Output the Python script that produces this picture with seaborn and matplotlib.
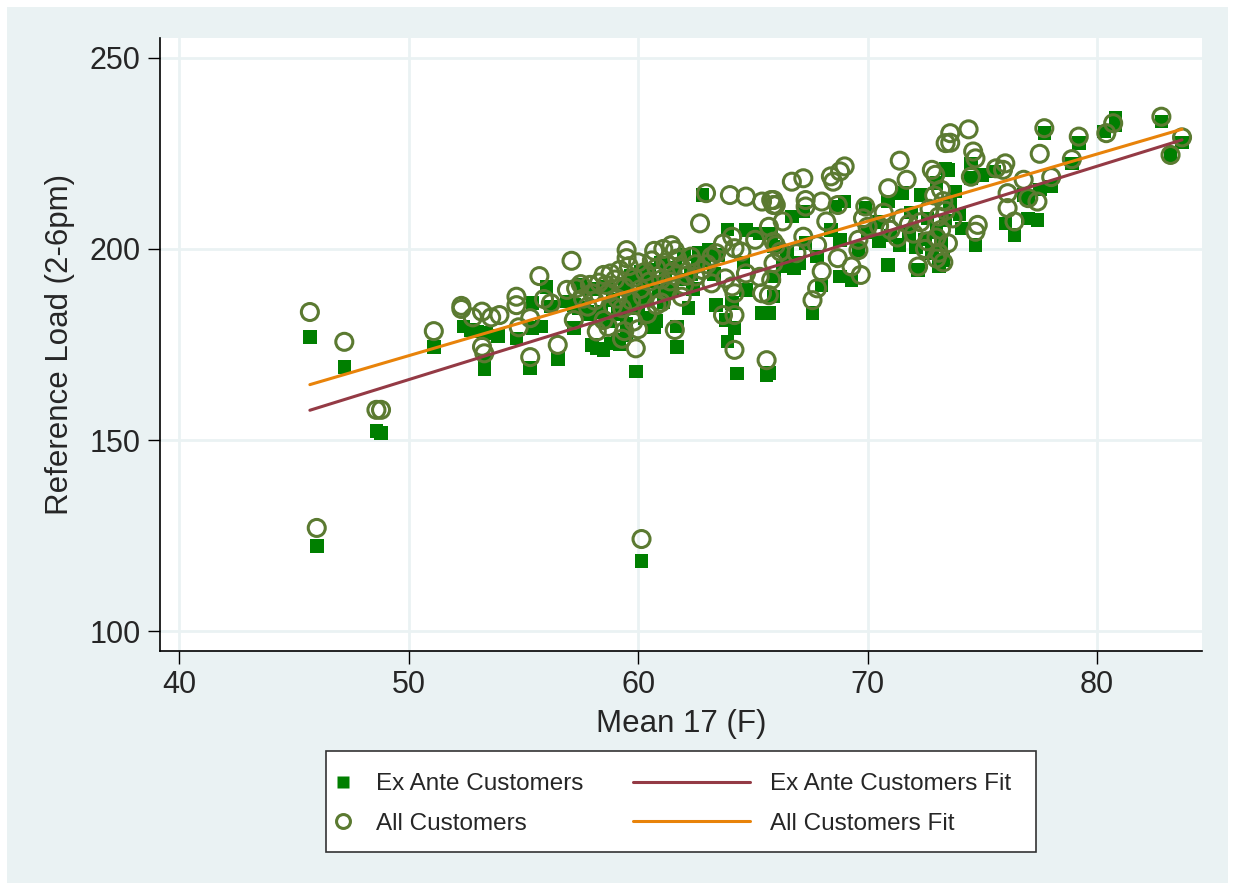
import numpy as np
import pandas as pd
import matplotlib
matplotlib.use('Agg')
import matplotlib.pyplot as plt
from matplotlib.patches import Rectangle
from matplotlib.lines import Line2D
import seaborn as sns

# Ex ante customers (squares): temperature, load
exTemp = [45.7, 46.0, 47.2, 48.6, 48.8, 51.1, 60.15,
          52.4, 52.7, 53.0, 53.4, 53.9, 53.3, 53.3, 54.7, 55.4, 55.4, 55.8, 55.3, 56.5, 56.9,
          57.2, 57.4, 57.8, 57.2, 58.0, 58.2, 58.5, 58.8, 59.1, 58.9, 59.1,
          62.8, 63.9, 64.7, 65.3, 65.8, 65.9, 64.7, 64.1, 63.8, 65.4, 64.2, 63.9, 64.3, 65.6,
          61.7, 61.7, 60.8, 59.9, 62.2, 63.4, 62.65, 63.1, 63.5, 61.5, 61.2,
          59.3, 59.5, 59.6, 59.8, 60.0, 60.2, 60.4, 60.6, 60.9, 61.1, 59.4, 59.7, 60.1, 60.3,
          60.7, 59.2, 59.5, 61.3, 61.9, 62.3, 62.6, 62.0, 62.4, 57.5, 58.0, 58.4, 58.7, 57.9,
          56.2, 56.0,
          60.5, 61.0, 61.6, 62.9, 63.3, 64.6, 59.9, 58.6,
          69.0, 68.6, 66.7, 67.2, 71.5, 70.9, 69.9, 72.3, 73.0, 73.4, 68.4, 68.8, 67.0, 66.8,
          67.8, 68.8, 69.3, 70.9, 72.2, 69.6, 68.0, 67.6, 65.9, 65.7, 65.7, 66.3, 65.95, 66.5,
          67.3, 70.0, 70.5, 71.0, 71.4, 71.8, 72.1, 72.5, 72.8, 73.0, 73.2, 73.4, 72.6, 71.9,
          70.4,
          73.5, 77.7, 79.2, 80.3, 80.8, 78.9, 74.5, 74.5, 75.0, 75.5, 78.0, 77.5, 76.8, 77.0,
          76.0, 76.4, 77.0, 77.4, 74.7, 74.1, 73.3, 73.1, 73.6, 74.0, 73.8,
          82.8, 83.7, 83.2, 80.8]
exLoad = [177.0, 122.3, 169.1, 152.4, 151.8, 174.3, 118.3,
          179.7, 178.8, 178.4, 178.0, 177.2, 168.4, 170.5, 176.6, 185.8, 179.3, 179.7, 168.8, 171.2, 186.2,
          185.3, 184.5, 183.6, 179.3, 174.9, 174.0, 173.6, 175.3, 176.2, 186.6, 184.0,
          214.1, 205.1, 205.0, 204.1, 204.1, 200.7, 189.3, 185.8, 181.4, 183.2, 179.3, 175.8, 167.4, 167.0,
          174.4, 179.7, 181.2, 167.9, 184.5, 185.3, 198.9, 199.7, 198.4, 189.3, 192.8,
          183.0, 180.5, 185.5, 188.0, 184.5, 189.5, 186.5, 191.5, 189.0, 186.0, 190.5, 193.0, 194.0, 182.0,
          179.5, 175.0, 177.5, 188.5, 192.0, 193.5, 196.0, 198.5, 189.5, 190.5, 189.5, 183.5, 181.0, 183.0,
          185.0, 190.0,
          194.5, 196.5, 195.0, 197.0, 193.5, 196.5, 193.0, 190.0,
          212.4, 211.1, 208.5, 209.8, 214.6, 212.4, 210.7, 214.1, 217.2, 221.1, 205.0, 202.4, 196.3, 194.9,
          198.0, 192.8, 191.9, 195.8, 194.5, 199.7, 190.6, 183.2, 187.5, 183.2, 167.5, 195.4, 192.8, 199.0,
          201.5, 204.5, 202.0, 203.5, 201.0, 204.0, 200.5, 202.5, 199.0, 204.5, 201.5, 207.5, 208.0, 209.5,
          207.0,
          220.7, 230.3, 227.7, 230.7, 234.2, 222.4, 222.4, 218.5, 219.4, 220.3, 216.3, 215.5, 214.1, 213.3,
          206.7, 203.7, 208.0, 207.6, 201.0, 205.4, 197.1, 195.4, 212.0, 209.0, 215.0,
          233.3, 227.8, 224.6, 232.5]

# All customers (circles): temperature, load
allTemp = [45.7, 46.0, 47.2, 48.6, 48.8, 51.1, 60.15,
           57.1, 55.7, 52.3, 52.3, 52.8, 53.2, 53.6, 53.96, 54.7, 54.7, 55.3, 54.8, 55.9, 56.2,
           53.2, 53.3, 55.3, 56.5, 56.9, 57.3, 57.5, 57.9, 58.0, 57.8, 57.2, 58.2, 58.5, 58.7,
           58.5, 58.8, 58.3, 58.6,
           62.96, 64.0, 64.7, 65.4, 65.8, 65.9, 62.7, 59.5, 59.5, 61.45, 61.6, 63.7, 64.1, 64.2,
           64.5, 65.1, 65.7, 65.9, 63.2, 63.4, 63.8, 64.1, 64.2, 63.2, 64.7, 65.3, 65.4, 65.7,
           63.7, 64.2, 64.2, 65.6, 61.6, 59.9, 60.8, 61.9, 62.5,
           59.0, 59.2, 59.4, 59.6, 59.8, 60.0, 60.1, 60.3, 60.5, 60.6, 60.8, 61.0, 61.2, 61.3,
           61.5, 61.7, 61.9, 62.1, 62.3, 62.5, 59.1, 59.3, 59.7, 60.2, 60.4, 59.8, 59.4, 60.0,
           59.3, 58.9, 61.0, 61.4, 62.8, 62.0, 63.0, 58.7, 58.1, 57.6, 60.7, 61.1,
           71.4, 69.0, 68.8, 68.4, 68.5, 66.7, 67.2, 71.7, 70.9, 72.8, 72.95, 73.4, 65.9, 66.0,
           67.3, 67.3, 68.0, 66.3, 68.7, 68.2, 69.9, 69.8, 70.0, 67.2, 67.8, 66.9, 66.0, 66.2,
           65.9, 65.8, 68.7, 69.3, 69.7, 68.0, 67.8, 67.6, 69.6, 69.6, 72.2, 72.6, 73.0, 72.5,
           70.5, 71.0, 71.3, 71.8, 72.0, 72.3, 72.7, 73.1, 73.3, 72.9, 73.2, 70.7, 71.5,
           73.6, 73.6, 74.4, 77.7, 79.2, 80.7, 80.4, 77.5, 78.9, 74.6, 74.7, 74.5, 75.6, 75.9,
           76.0, 76.8, 78.0, 76.1, 77.0, 77.4, 76.1, 76.4, 74.8, 74.7, 73.4, 73.7, 73.2, 73.5,
           73.1, 73.3, 73.0,
           82.8, 83.7, 83.2]
allLoad = [183.5, 127.0, 175.7, 157.9, 157.9, 178.5, 124.1,
           196.9, 192.9, 185.1, 184.3, 182.1, 183.6, 182.1, 182.7, 187.5, 185.3, 181.9, 179.5, 186.9, 185.8,
           174.4, 172.7, 171.7, 174.9, 189.3, 189.7, 190.8, 190.6, 188.4, 184.9, 181.4, 178.4, 181.4, 179.6,
           193.2, 193.6, 191.2, 190.6,
           214.6, 214.1, 213.7, 212.4, 212.8, 211.5, 206.7, 199.7, 197.6, 201.0, 199.7, 201.4, 203.2, 200.2,
           199.3, 202.4, 205.8, 201.9, 198.0, 198.9, 192.3, 190.2, 188.4, 191.0, 193.6, 192.7, 188.4, 187.9,
           182.7, 182.7, 173.6, 170.9, 178.8, 174.0, 185.3, 187.5, 192.8,
           192.0, 194.5, 190.0, 195.5, 192.5, 196.5, 189.5, 194.0, 191.5, 197.0, 195.0, 192.0, 196.5, 189.0,
           194.0, 197.5, 195.0, 193.0, 198.0, 196.0, 187.0, 184.5, 186.5, 187.5, 183.0, 181.0, 178.5, 179.0,
           176.5, 185.0, 186.0, 191.5, 194.5, 190.5, 196.0, 188.5, 186.5, 187.0, 199.5, 200.0,
           223.1, 221.6, 220.3, 219.0, 217.6, 217.6, 218.5, 218.1, 215.9, 220.7, 219.4, 227.7, 212.8, 211.5,
           212.8, 211.1, 212.4, 207.2, 211.5, 207.2, 211.1, 208.0, 205.8, 203.2, 201.0, 198.9, 201.0, 199.3,
           196.3, 191.9, 197.6, 195.4, 193.2, 194.1, 189.7, 186.6, 202.4, 199.7, 195.4, 202.0, 203.0, 200.0,
           206.0, 205.0, 203.0, 206.5, 204.0, 207.0, 210.5, 208.5, 212.5, 214.0, 215.5, 209.5, 208.0,
           230.3, 227.8, 231.3, 231.6, 229.4, 232.9, 230.3, 224.9, 223.5, 225.5, 223.7, 218.9, 221.1, 220.7,
           222.4, 218.1, 218.8, 214.6, 213.3, 212.4, 210.7, 207.2, 206.3, 204.5, 210.0, 208.0, 205.0, 201.5,
           199.0, 196.5, 197.5,
           234.6, 229.2, 224.6]

xTicks = [40, 50, 60, 70, 80]
yTicks = [100, 150, 200, 250]

bgColor = '#EAF2F3'
sqColor = '#007F00'
ciColor = '#5B7A31'
exFitColor = '#943A45'
allFitColor = '#E8830A'

exDf = pd.DataFrame({'temp': exTemp, 'load': exLoad})
allDf = pd.DataFrame({'temp': allTemp, 'load': allLoad})

sns.set_style('white')
plt.rcParams['font.family'] = ['Liberation Sans', 'DejaVu Sans']

fig = plt.figure(figsize=(12.35, 8.9), dpi=100)
fig.patch.set_facecolor('white')
fig.patches.append(Rectangle((7/1235, 7/890), 1221/1235, 876/890, transform=fig.transFigure,
                             facecolor=bgColor, edgecolor='none', zorder=-10))
ax = fig.add_axes([160/1235, 1 - 651/890, 1042/1235, 613/890])
ax.set_facecolor('white')

sns.scatterplot(data=exDf, x='temp', y='load', marker='s', s=95, color=sqColor,
                edgecolor='none', linewidth=0, ax=ax, zorder=3)
sns.scatterplot(data=allDf, x='temp', y='load', marker='o', s=150, facecolor='none',
                edgecolor=ciColor, linewidth=2.2, ax=ax, zorder=4)
sns.regplot(data=exDf, x='temp', y='load', scatter=False, ci=None, truncate=True,
            line_kws={'color': exFitColor, 'lw': 2.2, 'zorder': 5}, ax=ax)
sns.regplot(data=allDf, x='temp', y='load', scatter=False, ci=None, truncate=True,
            line_kws={'color': allFitColor, 'lw': 2.2, 'zorder': 6}, ax=ax)

ax.set_xlim(39.17, 84.57)
ax.set_ylim(94.8, 255.2)
ax.set_xticks(xTicks)
ax.set_yticks(yTicks)
ax.grid(True, color=bgColor, lw=2, zorder=0)
ax.set_axisbelow(True)
for side in ['top', 'right']:
  ax.spines[side].set_visible(False)
for side in ['left', 'bottom']:
  ax.spines[side].set_color('black')
  ax.spines[side].set_linewidth(1.2)
ax.tick_params(axis='both', direction='out', length=9, width=1, color='black',
               labelsize=22, pad=5, left=True, bottom=True)
ax.set_xlabel('Mean 17 (F)', fontsize=22.5, labelpad=6)
ax.set_ylabel('Reference Load (2-6pm)', fontsize=22.5, labelpad=10)

# legend box drawn by hand, two legends inside
fig.patches.append(Rectangle((326/1235, 1 - 852/890), 710/1235, 101/890, transform=fig.transFigure,
                             facecolor='white', edgecolor='#333333', lw=1.2, zorder=1))
h1 = [Line2D([], [], ls='none', marker='s', ms=8.5, color=sqColor, mec='none'),
      Line2D([], [], ls='none', marker='o', ms=10, mfc='none', mec=ciColor, mew=2.2)]
h2 = [Line2D([], [], color=exFitColor, lw=2.2),
      Line2D([], [], color=allFitColor, lw=2.2)]
leg1 = fig.legend(h1, ['Ex Ante Customers', 'All Customers'], loc='center left',
                  bbox_to_anchor=(331/1235, 1 - 804/890), frameon=False, fontsize=17.5,
                  handlelength=1.0, handletextpad=0.85, labelspacing=0.7, borderpad=0, borderaxespad=0)
leg2 = fig.legend(h2, ['Ex Ante Customers Fit', 'All Customers Fit'], loc='center left',
                  bbox_to_anchor=(633/1235, 1 - 804/890), frameon=False, fontsize=17.5,
                  handlelength=4.8, handletextpad=0.85, labelspacing=0.7, borderpad=0, borderaxespad=0)

fig.savefig('out.png', dpi=100, facecolor='white')
